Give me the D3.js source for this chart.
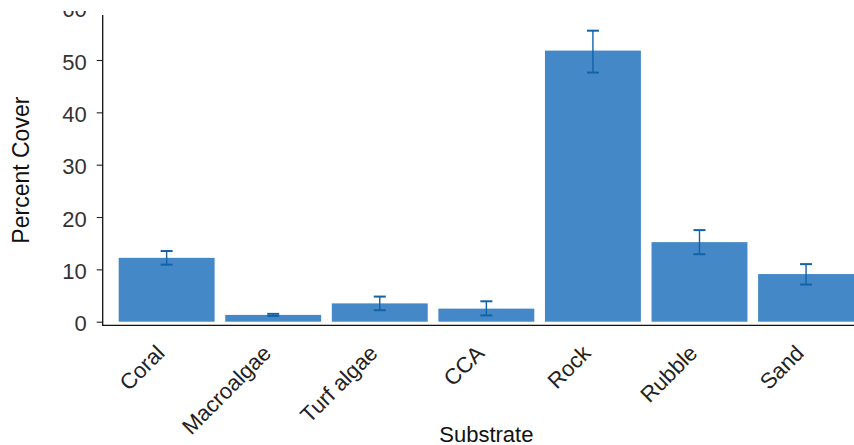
<!DOCTYPE html>
<html>
<head>
<meta charset="utf-8">
<script src="https://cdn.jsdelivr.net/npm/d3@7"></script>
<style>
  html, body { margin: 0; padding: 0; background: #fff; }
  svg { display: block; font-family: "Liberation Sans", Arial, Helvetica, sans-serif; }
</style>
</head>
<body>
<svg id="chart" width="854" height="445"></svg>
<script>
// ---- data ----
const categories = ["Coral", "Macroalgae", "Turf algae", "CCA", "Rock", "Rubble", "Sand"];
const meanCover  = [12.2, 1.3, 3.5, 2.5, 51.8, 15.2, 9.1];
const lowerCover = [10.9, 1.1, 2.2, 1.2, 47.6, 12.9, 7.1];
const upperCover = [13.5, 1.5, 4.8, 3.9, 55.6, 17.5, 11.0];
const yTicks     = [0, 10, 20, 30, 40, 50, 60];
const xTitle = "Substrate";
const yTitle = "Percent Cover";

// ---- layout ----
const W = 854, H = 445;
const left = 102.7, right = 870, bottomAxis = 325.3, panelTop = 15;
const svg = d3.select("#chart");

svg.append("defs").append("clipPath").attr("id", "topclip")
  .append("rect").attr("x", 0).attr("y", 11).attr("width", W).attr("height", H);

const root = svg.append("g").attr("clip-path", "url(#topclip)");

const x = d3.scaleBand().domain(categories).range([left, right])
  .paddingInner(0.1).paddingOuter(0.15);
const y = d3.scaleLinear().domain([0, 50]).range([321.7, 60]);

const data = categories.map((c, i) => ({ c, m: meanCover[i], lo: lowerCover[i], hi: upperCover[i] }));

// bars
root.append("g").selectAll("rect").data(data).join("rect")
  .attr("x", d => x(d.c))
  .attr("width", x.bandwidth())
  .attr("y", d => y(d.m))
  .attr("height", d => y(0) - y(d.m))
  .attr("fill", "#4488c8");

// error bars
const eb = root.append("g").attr("stroke", "#1262a8").attr("fill", "none");
const cap = 6;
eb.selectAll("line.v").data(data).join("line").attr("class", "v")
  .attr("x1", d => x(d.c) + x.bandwidth() / 2).attr("x2", d => x(d.c) + x.bandwidth() / 2)
  .attr("y1", d => y(d.lo)).attr("y2", d => y(d.hi)).attr("stroke-width", 1.4);
eb.selectAll("line.t").data(data).join("line").attr("class", "t")
  .attr("x1", d => x(d.c) + x.bandwidth() / 2 - cap).attr("x2", d => x(d.c) + x.bandwidth() / 2 + cap)
  .attr("y1", d => y(d.hi)).attr("y2", d => y(d.hi)).attr("stroke-width", 2);
eb.selectAll("line.b").data(data).join("line").attr("class", "b")
  .attr("x1", d => x(d.c) + x.bandwidth() / 2 - cap).attr("x2", d => x(d.c) + x.bandwidth() / 2 + cap)
  .attr("y1", d => y(d.lo)).attr("y2", d => y(d.lo)).attr("stroke-width", 2);

// y axis
const yAxis = d3.axisLeft(y).tickValues(yTicks).tickSize(6).tickPadding(10).tickFormat(d3.format("d"));
const gy = root.append("g").attr("transform", `translate(${left},0)`).call(yAxis);
gy.select(".domain").remove();
gy.selectAll(".tick line").attr("stroke", "#222").attr("stroke-width", 1.1);
gy.selectAll(".tick text").attr("font-size", 22).attr("fill", "#333").attr("dy", "0.42em")
  .attr("font-family", "Liberation Sans, Arial, sans-serif");
root.append("line").attr("x1", left).attr("x2", left).attr("y1", panelTop).attr("y2", bottomAxis + 0.6)
  .attr("stroke", "#111").attr("stroke-width", 1.3);

// x axis
const xAxis = d3.axisBottom(x).tickSize(0).tickPadding(0);
const gx = root.append("g").attr("transform", `translate(0,${bottomAxis})`).call(xAxis);
gx.select(".domain").remove();
gx.selectAll(".tick text")
  .attr("font-size", 22).attr("fill", "#222")
  .attr("font-family", "Liberation Sans, Arial, sans-serif")
  .attr("text-anchor", "end")
  .attr("y", 0).attr("dy", "0.72em")
  .attr("transform", "translate(-12,18) rotate(-45)");
root.append("line").attr("x1", left).attr("x2", right).attr("y1", bottomAxis).attr("y2", bottomAxis)
  .attr("stroke", "#111").attr("stroke-width", 1.3);

// titles
root.append("text").attr("x", (left + right) / 2).attr("y", 442)
  .attr("text-anchor", "middle").attr("font-size", 22).attr("fill", "#111").text(xTitle);
root.append("text").attr("transform", `translate(29,${(panelTop + bottomAxis) / 2}) rotate(-90)`)
  .attr("text-anchor", "middle").attr("font-size", 23).attr("fill", "#111").text(yTitle);
</script>
</body>
</html>
